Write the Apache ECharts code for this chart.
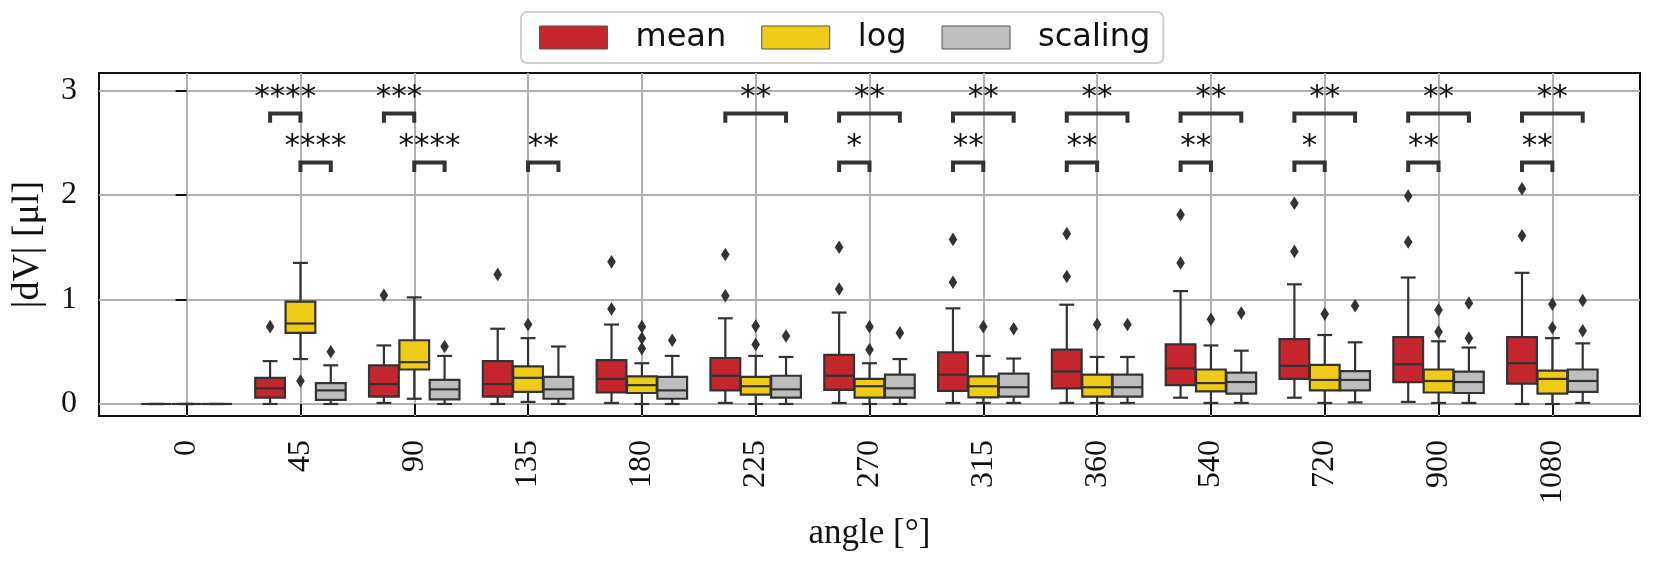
<!DOCTYPE html>
<html>
<head>
<meta charset="utf-8">
<script src="https://cdn.jsdelivr.net/npm/echarts@6/dist/echarts.min.js"></script>
<style>
  html, body { margin: 0; padding: 0; background: #fff; }
  #chart { width: 1654px; height: 566px; }
</style>
</head>
<body>
<div id="chart"></div>
<script>
// x categories (rotation angle in degrees)
const angles = ['0', '45', '90', '135', '180', '225', '270', '315', '360', '540', '720', '900', '1080'];
const hues = ['mean', 'log', 'scaling'];
const yTicks = [0, 1, 2, 3];

// per angle: [whisker low, Q1, median, Q3, whisker high]
const meanBoxes = [
  [0, 0, 0, 0, 0],
  [0.0, 0.06, 0.15, 0.25, 0.41],
  [0.01, 0.07, 0.19, 0.37, 0.56],
  [0.0, 0.07, 0.19, 0.41, 0.72],
  [0.01, 0.11, 0.24, 0.42, 0.76],
  [0.01, 0.13, 0.27, 0.44, 0.82],
  [0.01, 0.135, 0.27, 0.47, 0.875],
  [0.01, 0.125, 0.28, 0.495, 0.915],
  [0.01, 0.15, 0.31, 0.52, 0.95],
  [0.06, 0.18, 0.34, 0.57, 1.08],
  [0.06, 0.24, 0.365, 0.62, 1.145],
  [0.02, 0.21, 0.38, 0.64, 1.21],
  [0.0, 0.195, 0.39, 0.64, 1.255]
];
const meanOutliers = [
  [], [0.74], [1.04], [1.24], [0.91, 1.36], [1.035, 1.43], [1.10, 1.50],
  [1.165, 1.575], [1.22, 1.63], [1.35, 1.81], [1.46, 1.92], [1.55, 1.99], [1.61, 2.06]
];

const logBoxes = [
  [0, 0, 0, 0, 0],
  [0.43, 0.68, 0.77, 0.98, 1.35],
  [0.05, 0.33, 0.40, 0.61, 1.02],
  [0.02, 0.115, 0.25, 0.36, 0.63],
  [0.0, 0.105, 0.18, 0.265, 0.39],
  [0.0, 0.09, 0.17, 0.26, 0.46],
  [0.0, 0.06, 0.17, 0.24, 0.39],
  [0.01, 0.063, 0.17, 0.265, 0.46],
  [0.01, 0.07, 0.16, 0.28, 0.45],
  [0.01, 0.12, 0.20, 0.33, 0.56],
  [0.01, 0.13, 0.23, 0.375, 0.66],
  [0.01, 0.11, 0.22, 0.33, 0.60],
  [0.0, 0.10, 0.24, 0.32, 0.63]
];
const logOutliers = [
  [], [0.22], [], [0.76], [0.53, 0.63, 0.74], [0.57, 0.745], [0.52, 0.74],
  [0.74], [0.76], [0.81], [0.86], [0.69, 0.90], [0.73, 0.955]
];

const scalingBoxes = [
  [0, 0, 0, 0, 0],
  [0.0, 0.04, 0.13, 0.20, 0.37],
  [0.0, 0.045, 0.14, 0.23, 0.46],
  [0.0, 0.05, 0.14, 0.26, 0.55],
  [0.0, 0.05, 0.13, 0.26, 0.46],
  [0.0, 0.06, 0.14, 0.27, 0.45],
  [0.0, 0.06, 0.15, 0.28, 0.43],
  [0.01, 0.07, 0.16, 0.29, 0.435],
  [0.01, 0.07, 0.16, 0.28, 0.45],
  [0.01, 0.10, 0.21, 0.30, 0.51],
  [0.015, 0.13, 0.23, 0.315, 0.59],
  [0.01, 0.105, 0.21, 0.31, 0.54],
  [0.01, 0.115, 0.22, 0.33, 0.58]
];
const scalingOutliers = [
  [], [0.50], [0.55], [], [0.61], [0.65], [0.68],
  [0.72], [0.76], [0.87], [0.94], [0.63, 0.965], [0.70, 0.99]
];

// significance brackets: [angle index, hue a, hue b, row (0 upper, 1 lower), stars]
const sigPairs = [
  [1, 0, 1, 0, '****'], [1, 1, 2, 1, '****'],
  [2, 0, 1, 0, '***'], [2, 1, 2, 1, '****'],
  [3, 1, 2, 1, '**'],
  [5, 0, 2, 0, '**'],
  [6, 0, 2, 0, '**'], [6, 0, 1, 1, '*'],
  [7, 0, 2, 0, '**'], [7, 0, 1, 1, '**'],
  [8, 0, 2, 0, '**'], [8, 0, 1, 1, '**'],
  [9, 0, 2, 0, '**'], [9, 0, 1, 1, '**'],
  [10, 0, 2, 0, '**'], [10, 0, 1, 1, '*'],
  [11, 0, 2, 0, '**'], [11, 0, 1, 1, '**'],
  [12, 0, 2, 0, '**'], [12, 0, 1, 1, '**']
];
const sigLevels = [2.78, 2.31];

const serif = "'Liberation Serif', 'DejaVu Serif', serif";
const sans = "'DejaVu Sans', sans-serif";
const lineColor = '#333333';
const hueColors = ['#C5262E', '#EDCB16', '#BEBEBE'];
const band = 0.8 / 3;      // seaborn: width 0.8 split over 3 hues
const legDrop = 0.09;
const starLift = 0.15;

function boxRenderer(hue, outliers) {
  return function (params, api) {
    const x = api.value(0) + (hue - 1) * band;
    const half = band * 0.49;
    const lo = api.value(1), q1 = api.value(2), md = api.value(3), q3 = api.value(4), hi = api.value(5);
    const at = (dx, v) => api.coord([x + dx, v]);
    const seg = (a, b, w) => ({
      type: 'line',
      shape: { x1: a[0], y1: a[1], x2: b[0], y2: b[1] },
      style: { stroke: lineColor, lineWidth: w || 2.2 }
    });
    const tl = at(-half, q3), br = at(half, q1);
    const children = [
      seg(at(0, q3), at(0, hi)),
      seg(at(0, q1), at(0, lo)),
      seg(at(-half / 2, hi), at(half / 2, hi)),
      seg(at(-half / 2, lo), at(half / 2, lo)),
      {
        type: 'rect',
        shape: { x: tl[0], y: tl[1], width: br[0] - tl[0], height: br[1] - tl[1] },
        style: { fill: api.visual('color'), stroke: lineColor, lineWidth: 2.2 }
      },
      seg(at(-half, md), at(half, md))
    ];
    outliers[params.dataIndex].forEach(function (v) {
      const p = at(0, v);
      children.push({
        type: 'polygon',
        shape: { points: [[p[0], p[1] - 6.8], [p[0] + 4.3, p[1]], [p[0], p[1] + 6.8], [p[0] - 4.3, p[1]]] },
        style: { fill: lineColor }
      });
    });
    return { type: 'group', children: children };
  };
}

function sigRenderer(params, api) {
  const p = sigPairs[params.dataIndex];
  const xa = p[0] + (p[1] - 1) * band;
  const xb = p[0] + (p[2] - 1) * band;
  const top = sigLevels[p[3]];
  const pts = [
    api.coord([xa, top - legDrop]), api.coord([xa, top]),
    api.coord([xb, top]), api.coord([xb, top - legDrop])
  ];
  const t = api.coord([(xa + xb) / 2, top + starLift]);
  return {
    type: 'group',
    children: [
      { type: 'polyline', shape: { points: pts }, style: { stroke: lineColor, lineWidth: 4, fill: null } },
      {
        type: 'text',
        style: { text: p[4], x: t[0], y: t[1], align: 'center', verticalAlign: 'middle', font: "31px 'DejaVu Sans', sans-serif", fill: '#111' }
      }
    ]
  };
}

const boxSets = [meanBoxes, logBoxes, scalingBoxes];
const outlierSets = [meanOutliers, logOutliers, scalingOutliers];
const xTicks = angles.map((a, i) => i);

const series = hues.map(function (name, h) {
  return {
    type: 'custom',
    name: name,
    data: boxSets[h].map((b, i) => [i].concat(b)),
    encode: { x: 0, y: [1, 2, 3, 4, 5] },
    itemStyle: { color: hueColors[h] },
    renderItem: boxRenderer(h, outlierSets[h]),
    z: 3
  };
});
series.push({
  type: 'custom',
  name: 'significance',
  silent: true,
  data: sigPairs.map(p => [p[0], sigLevels[p[3]]]),
  encode: { x: 0, y: 1 },
  renderItem: sigRenderer,
  z: 4
});

const chart = echarts.init(document.getElementById('chart'));
chart.setOption({
  animation: false,
  backgroundColor: '#fff',
  legend: {
    data: hues,
    top: 12,
    left: 521,
    padding: [9, 13, 9, 18],
    itemGap: 35,
    itemWidth: 68,
    itemHeight: 23,
    icon: 'rect',
    borderColor: '#d0d0d0',
    borderWidth: 2,
    borderRadius: 6,
    backgroundColor: '#fff',
    itemStyle: { borderColor: '#555', borderWidth: 1 },
    textStyle: { fontFamily: sans, fontSize: 32, color: '#111', padding: [0, 0, 0, 23], lineHeight: 33 }
  },
  grid: {
    left: 99, right: 14, top: 73, bottom: 150,
    show: true, borderColor: '#111', borderWidth: 2, backgroundColor: '#fff'
  },
  xAxis: {
    type: 'value',
    min: -0.77,
    max: 12.77,
    axisLine: { show: false },
    axisTick: { show: true, length: 11, customValues: xTicks, lineStyle: { color: '#111', width: 2 } },
    axisLabel: {
      customValues: xTicks, rotate: 90, margin: 24,
      fontFamily: serif, fontSize: 32, color: '#111',
      formatter: v => angles[v]
    },
    splitLine: { show: true, lineStyle: { color: '#b0b0b0', width: 2 } },
    name: 'angle [°]',
    nameLocation: 'middle',
    nameGap: 100,
    nameTextStyle: { fontFamily: serif, fontSize: 35, color: '#111' }
  },
  yAxis: {
    type: 'value',
    min: -0.115,
    max: 3.167,
    axisLine: { show: false },
    axisTick: { show: true, length: 11, customValues: yTicks, lineStyle: { color: '#111', width: 2 } },
    axisLabel: { customValues: yTicks, margin: 22, fontFamily: serif, fontSize: 32, color: '#111' },
    splitLine: { show: true, lineStyle: { color: '#b0b0b0', width: 2 } },
    name: '|dV| [μl]',
    nameLocation: 'middle',
    nameGap: 52,
    nameTextStyle: { fontFamily: serif, fontSize: 38, color: '#111' }
  },
  series: series
});
</script>
</body>
</html>
